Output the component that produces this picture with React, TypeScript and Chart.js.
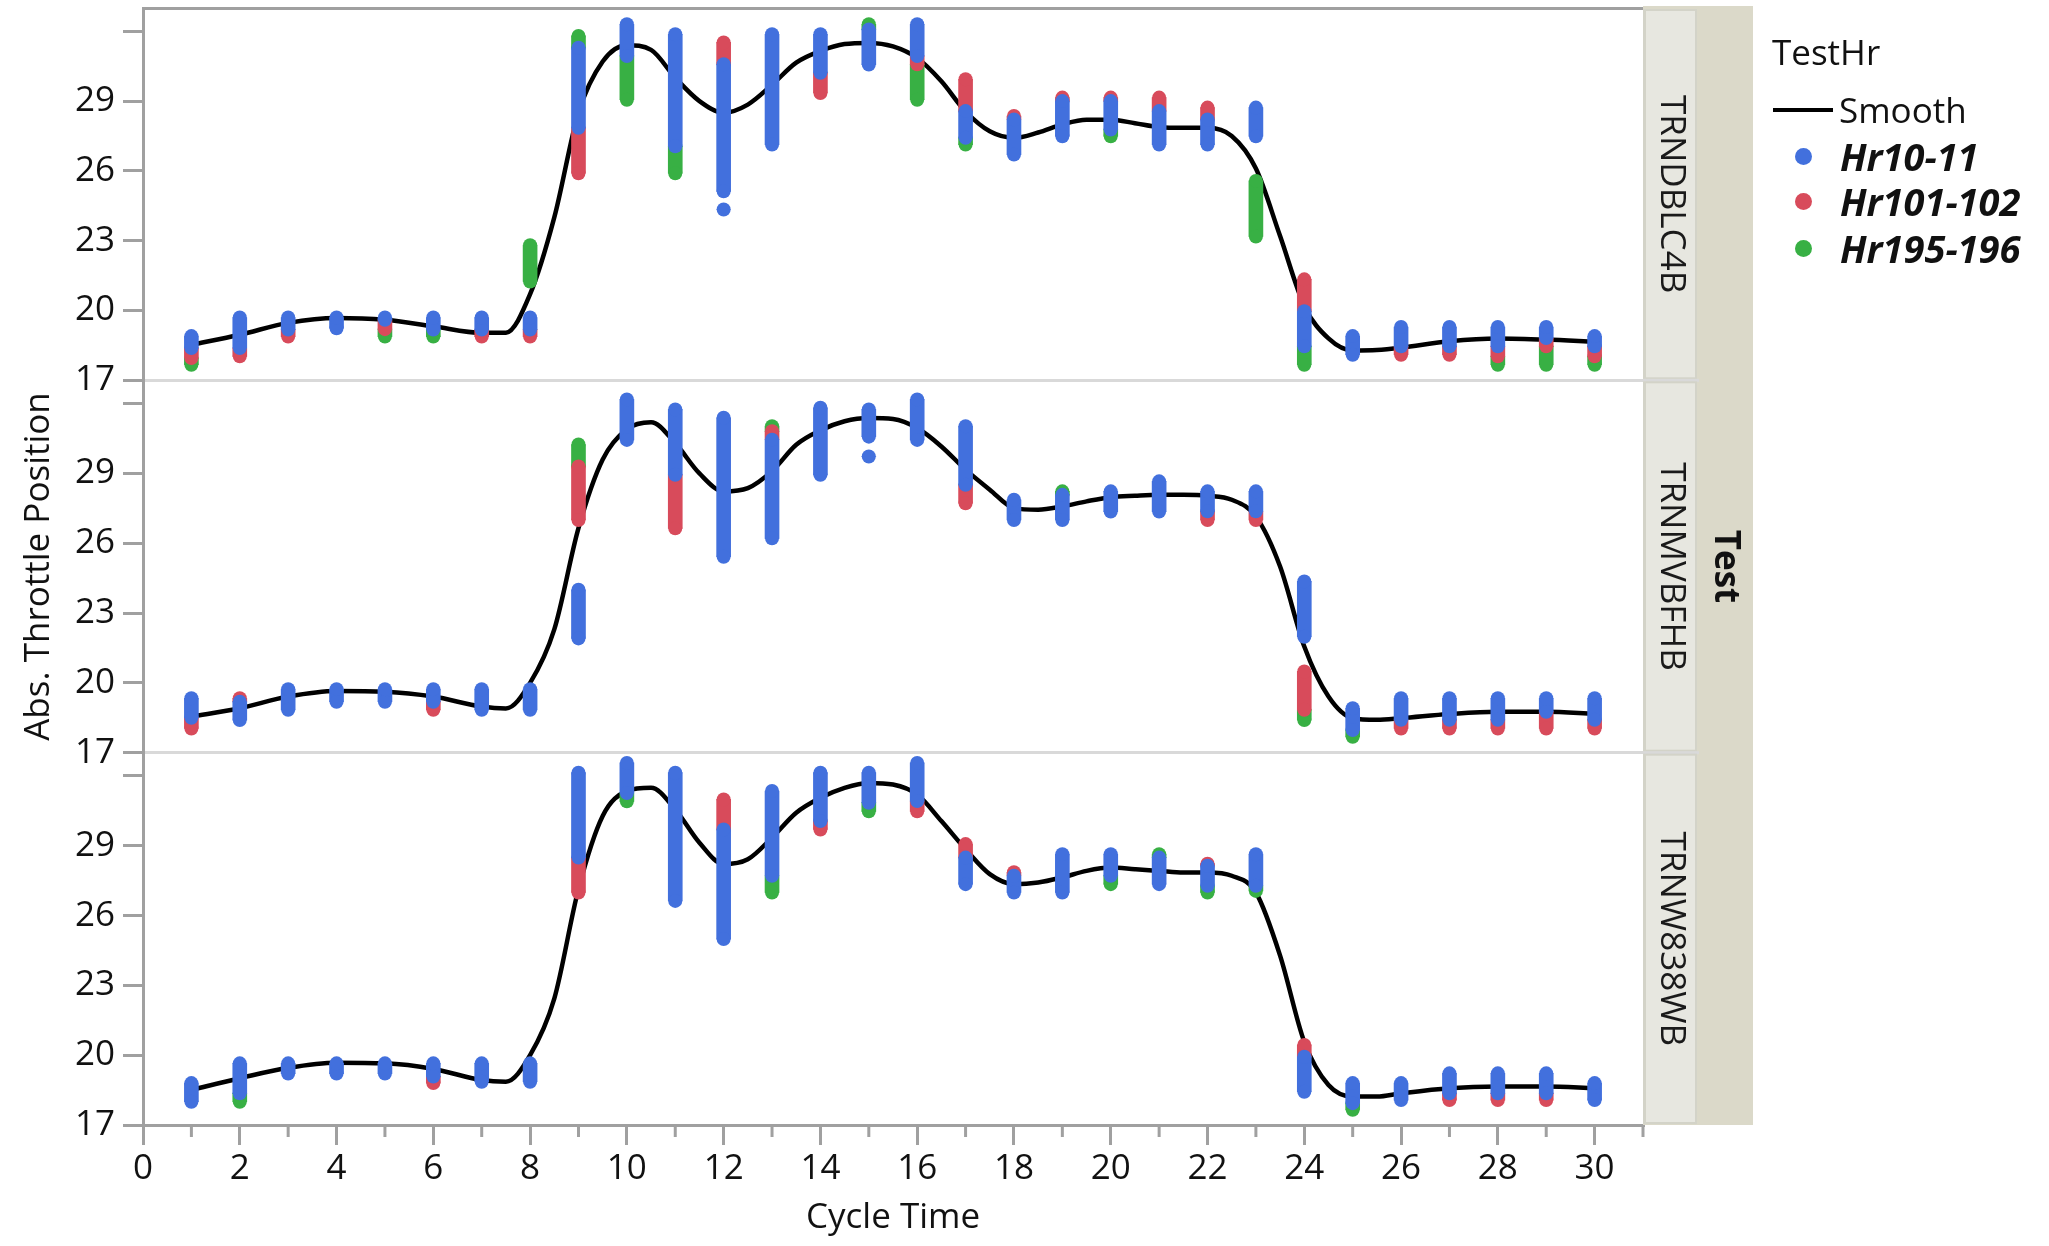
import React, { useEffect, useRef } from 'react';
import { Chart, registerables } from 'chart.js';

Chart.register(...registerables);

type R = [number, number, number]; // [cycle time, low value, high value]

const X_TITLE = 'Cycle Time';
const Y_TITLE = 'Abs. Throttle Position';
const LEGEND_TITLE = 'TestHr';
const SMOOTH_LABEL = 'Smooth';
const FACET_TITLE = 'Test';
const PANELS = ['TRNDBLC4B', 'TRNMVBFHB', 'TRNW838WB'];
const SERIES = ['Hr10-11', 'Hr101-102', 'Hr195-196'];
const COLORS = ['#4270DD', '#D84B5B', '#38B044'];
const Y_TICKS = [17, 20, 23, 26, 29, 32];
const Y_MIN = 17;
const Y_MAX = 33;
const X_MIN = 0;
const X_MAX = 31;

// Panel 1: TRNDBLC4B
const P1_BLUE: R[] = [[1,18.39,18.9],[2,18.39,19.7],[3,19.18,19.7],[4,19.24,19.7],[5,19.6,19.7],[6,19.18,19.7],[7,19.18,19.7],[8,19.18,19.7],[9,27.85,31.29],[10,30.94,32.3],[11,27.06,31.87],[12,25.12,30.58],[12,24.34,24.34],[13,27.13,31.87],[14,30.22,31.87],[15,30.57,32.08],[16,30.94,32.3],[17,27.42,28.57],[18,26.7,28.21],[19,27.49,29.0],[20,27.78,29.0],[21,27.13,28.57],[22,27.13,28.21],[23,27.49,28.72],[24,18.46,19.97],[25,18.1,18.9],[26,18.46,19.29],[27,18.46,19.29],[28,18.46,19.29],[29,18.82,19.29],[30,18.46,18.9]];
const P1_RED: R[] = [[1,17.96,18.39],[2,18.03,18.39],[3,18.88,19.18],[5,19.2,19.6],[7,18.88,19.18],[8,18.88,19.18],[9,25.9,27.85],[12,30.58,31.52],[14,29.35,30.22],[16,30.58,30.94],[17,28.57,29.94],[18,28.21,28.36],[19,29.0,29.15],[20,29.0,29.15],[21,28.57,29.15],[22,28.21,28.72],[24,19.97,21.34],[26,18.1,18.46],[27,18.1,18.46],[28,18.03,18.46],[29,18.46,18.82],[30,18.03,18.46]];
const P1_GREEN: R[] = [[1,17.67,17.96],[5,18.88,19.2],[6,18.88,19.18],[8,21.25,22.81],[9,31.29,31.8],[10,29.06,30.94],[11,25.9,27.06],[15,32.08,32.3],[16,29.06,30.58],[17,27.13,27.42],[20,27.49,27.78],[23,23.18,25.57],[24,17.67,18.46],[28,17.67,18.03],[29,17.67,18.46],[30,17.67,18.03]];

// Panel 2: TRNMVBFHB
const P2_BLUE: R[] = [[1,18.5,19.34],[2,18.4,19.19],[3,18.84,19.73],[4,19.19,19.73],[5,19.19,19.73],[6,19.19,19.73],[7,18.84,19.73],[8,18.84,19.73],[9,21.91,24.0],[10,30.44,32.18],[11,28.94,31.75],[12,25.42,31.39],[13,26.21,30.45],[14,28.94,31.82],[15,30.58,31.75],[15,29.73,29.73],[16,30.44,32.18],[17,28.51,31.03],[18,27.0,27.87],[19,27.0,28.08],[20,27.36,28.23],[21,27.36,28.66],[22,27.37,28.23],[23,27.37,28.23],[24,21.98,24.36],[25,17.97,18.91],[26,18.41,19.34],[27,18.41,19.34],[28,18.41,19.34],[29,18.76,19.34],[30,18.41,19.34]];
const P2_RED: R[] = [[1,18.04,18.5],[2,19.19,19.34],[6,18.84,19.19],[9,27.0,29.3],[11,26.64,28.94],[13,30.45,30.81],[17,27.72,28.51],[22,27.0,27.37],[23,27.0,27.37],[24,18.84,20.49],[26,18.04,18.41],[27,18.04,18.41],[28,18.04,18.41],[29,18.04,18.76],[30,18.04,18.41]];
const P2_GREEN: R[] = [[9,29.3,30.24],[13,30.81,31.03],[19,28.08,28.23],[24,18.4,18.84],[25,17.68,17.97]];

// Panel 3: TRNW838WB
const P3_BLUE: R[] = [[1,18.0,18.8],[2,18.36,19.65],[3,19.21,19.65],[4,19.21,19.65],[5,19.21,19.65],[6,19.08,19.65],[7,18.86,19.65],[8,18.86,19.65],[9,28.49,32.14],[10,31.27,32.56],[11,26.63,32.14],[12,24.99,29.7],[13,27.71,31.35],[14,30.06,32.14],[15,30.85,32.14],[16,30.92,32.56],[17,27.35,28.49],[18,26.99,27.71],[19,26.99,28.64],[20,27.71,28.64],[21,27.35,28.49],[22,27.28,28.14],[23,27.28,28.64],[24,18.43,19.93],[25,17.94,18.8],[26,18.07,18.8],[27,18.36,19.22],[28,18.36,19.22],[29,18.36,19.22],[30,18.07,18.8]];
const P3_RED: R[] = [[6,18.8,19.08],[9,26.99,28.49],[12,29.7,30.99],[14,29.7,30.06],[16,30.48,30.92],[17,28.49,29.07],[18,27.71,27.86],[22,28.14,28.23],[24,19.93,20.44],[27,18.07,18.36],[28,18.07,18.36],[29,18.07,18.36]];
const P3_GREEN: R[] = [[2,18.0,18.36],[10,30.91,31.27],[13,26.99,27.71],[15,30.48,30.85],[20,27.35,27.71],[21,28.49,28.64],[22,26.99,27.28],[23,27.06,27.28],[25,17.65,17.94]];

// Smoother curve
const SMOOTH_X = [1,2,3,4,5,6,7,7.5,8,8.5,9,9.5,10,10.5,11,11.5,12,12.5,13,13.5,14,14.5,15,15.5,16,16.5,17,17.5,18,18.5,19,19.5,20,20.5,21,21.5,22,22.5,23,23.5,24,24.5,25,25.5,26,27,28,29,30];
const P1_SMOOTH = [18.53,18.96,19.47,19.68,19.6,19.32,19.04,19.05,20.7,24.0,28.5,30.7,31.4,31.2,30.0,29.0,28.5,28.85,29.7,30.65,31.15,31.45,31.5,31.35,30.85,29.85,28.55,27.7,27.42,27.65,28.0,28.2,28.2,28.05,27.88,27.85,27.85,27.5,26.1,23.2,20.2,18.8,18.28,18.3,18.4,18.68,18.8,18.75,18.65];
const P2_SMOOTH = [18.55,18.91,19.41,19.65,19.62,19.41,18.98,18.9,20.0,22.3,26.65,29.6,30.9,31.2,30.3,29.0,28.23,28.37,29.1,30.23,30.85,31.24,31.38,31.34,30.95,30.16,29.16,28.3,27.51,27.44,27.58,27.8,27.98,28.04,28.08,28.08,28.04,27.87,27.15,25.0,21.56,19.41,18.48,18.41,18.48,18.66,18.76,18.76,18.66];
const P3_SMOOTH = [18.51,19.01,19.46,19.68,19.65,19.41,18.93,18.86,20.0,22.43,27.14,30.28,31.35,31.49,30.56,29.13,28.21,28.42,29.35,30.42,31.06,31.49,31.7,31.63,31.2,30.06,28.85,27.78,27.35,27.42,27.64,27.92,28.06,27.99,27.92,27.85,27.85,27.71,26.99,24.28,20.57,18.72,18.22,18.22,18.36,18.58,18.65,18.65,18.58];

const PANEL_SERIES = [
  [P1_BLUE, P1_RED, P1_GREEN],
  [P2_BLUE, P2_RED, P2_GREEN],
  [P3_BLUE, P3_RED, P3_GREEN],
];
const PANEL_SMOOTH = [P1_SMOOTH, P2_SMOOTH, P3_SMOOTH];
const Y_IDS = ['y1', 'y2', 'y3'];

const FONT = '"Open Sans", "DejaVu Sans", sans-serif';
const AXIS_GRAY = '#a0a0a0';
const SEP_GRAY = '#d9d9d9';
const TEXT = '#111111';
const MARK_D = 14;

const stripPlugin = {
  id: 'strips',
  afterDraw(chart: any) {
    const ctx = chart.ctx;
    const area = chart.chartArea;
    const x0 = area.right;
    const innerW = 54;
    const outerW = 56;
    ctx.save();
    ctx.fillStyle = '#dbd9c9';
    ctx.fillRect(x0, area.top - 2, innerW + outerW, area.bottom - area.top + 2);
    Y_IDS.forEach((id, i) => {
      const s = chart.scales[id];
      ctx.fillStyle = '#d3d3c8';
      ctx.fillRect(x0, s.top + 1, innerW, s.bottom - s.top - 2);
      ctx.fillStyle = '#e7e7e0';
      ctx.fillRect(x0 + 3, s.top + 3, innerW - 5, s.bottom - s.top - 6);
      ctx.save();
      ctx.translate(x0 + innerW / 2 + 1, (s.top + s.bottom) / 2);
      ctx.rotate(Math.PI / 2);
      ctx.fillStyle = '#1a1a1a';
      ctx.font = `35px ${FONT}`;
      ctx.textAlign = 'center';
      ctx.textBaseline = 'middle';
      ctx.fillText(PANELS[i], 0, 0);
      ctx.restore();
      if (i < Y_IDS.length - 1) {
        ctx.fillStyle = SEP_GRAY;
        ctx.fillRect(x0, s.bottom - 1.5, innerW + 2, 3);
      }
    });
    ctx.save();
    ctx.translate(x0 + innerW + outerW / 2, (area.top + area.bottom) / 2);
    ctx.rotate(Math.PI / 2);
    ctx.fillStyle = '#111';
    ctx.font = `bold 35px ${FONT}`;
    ctx.textAlign = 'center';
    ctx.textBaseline = 'middle';
    ctx.fillText(FACET_TITLE, 0, 0);
    ctx.restore();

    // minor ticks on the x axis
    const xs = chart.scales.x;
    ctx.strokeStyle = AXIS_GRAY;
    ctx.lineWidth = 3;
    for (let v = X_MIN + 1; v <= X_MAX; v += 2) {
      const px = xs.getPixelForValue(v);
      ctx.beginPath();
      ctx.moveTo(px, xs.top);
      ctx.lineTo(px, xs.top + 12);
      ctx.stroke();
    }
    ctx.restore();
  },
};

function yScale(p: number) {
  return {
    type: 'linear',
    position: 'left',
    stack: 'panels',
    stackWeight: 1,
    min: Y_MIN,
    max: Y_MAX,
    offset: false,
    afterBuildTicks: (s: any) => {
      s.ticks = Y_TICKS.map((v) => ({ value: v }));
    },
    afterFit: (s: any) => {
      s.width = 143;
      s.paddingTop = 0;
      s.paddingBottom = 0;
    },
    ticks: {
      autoSkip: false,
      padding: 8,
      color: TEXT,
      font: { size: 35, family: FONT },
      callback: (v: any) => (v === 32 ? '' : String(v)),
    },
    grid: {
      drawOnChartArea: true,
      drawTicks: true,
      tickLength: 20,
      lineWidth: 3,
      tickWidth: 3,
      tickColor: AXIS_GRAY,
      color: (ctx: any) =>
        p < 2 && ctx.tick && ctx.tick.value === Y_MIN ? SEP_GRAY : 'rgba(0,0,0,0)',
    },
    border: { display: true, color: AXIS_GRAY, width: 3 },
    title: {
      display: p === 1,
      text: Y_TITLE,
      color: TEXT,
      font: { size: 35, family: FONT },
      padding: { top: 18, bottom: 0 },
    },
  };
}

export default function App() {
  const canvasRef = useRef<HTMLCanvasElement | null>(null);

  useEffect(() => {
    if (!canvasRef.current) return;
    const datasets: any[] = [];
    PANEL_SERIES.forEach((series, p) => {
      series.forEach((ranges, s) => {
        datasets.push({
          type: 'scatter',
          label: `${SERIES[s]} ${PANELS[p]}`,
          xAxisID: 'x',
          yAxisID: Y_IDS[p],
          data: ranges.flatMap(([x, lo, hi]) =>
            lo === hi ? [{ x, y: lo }] : [{ x, y: lo }, { x, y: hi }]
          ),
          showLine: false,
          pointRadius: MARK_D / 2,
          pointHoverRadius: MARK_D / 2,
          pointBorderWidth: 0,
          backgroundColor: COLORS[s],
          borderColor: COLORS[s],
        });
        datasets.push({
          type: 'bar',
          label: `${SERIES[s]} ${PANELS[p]} range`,
          xAxisID: 'x',
          yAxisID: Y_IDS[p],
          data: ranges.map(([x, lo, hi]) => ({ x, y: [lo, hi] })),
          backgroundColor: COLORS[s],
          borderWidth: 0,
          borderSkipped: false,
          barThickness: MARK_D,
          grouped: false,
        });
      });
    });
    PANEL_SMOOTH.forEach((vals, p) => {
      datasets.push({
        type: 'line',
        label: `${SMOOTH_LABEL} ${PANELS[p]}`,
        xAxisID: 'x',
        yAxisID: Y_IDS[p],
        data: SMOOTH_X.map((x, i) => ({ x, y: vals[i] })),
        borderColor: '#000000',
        borderWidth: 4.5,
        pointRadius: 0,
        fill: false,
        cubicInterpolationMode: 'monotone',
      });
    });

    const chart = new Chart(canvasRef.current, {
      type: 'bar',
      data: { datasets },
      options: {
        responsive: false,
        animation: false,
        devicePixelRatio: 1,
        events: [],
        layout: { padding: { left: 0, top: 8, right: 406, bottom: 0 } },
        plugins: { legend: { display: false }, tooltip: { enabled: false } },
        scales: {
          x: {
            type: 'linear',
            position: 'bottom',
            min: X_MIN,
            max: X_MAX,
            offset: false,
            afterFit: (s: any) => {
              s.height = 121;
              s.paddingLeft = 0;
              s.paddingRight = 0;
            },
            ticks: {
              stepSize: 1,
              autoSkip: false,
              maxRotation: 0,
              padding: 3,
              color: TEXT,
              font: { size: 35, family: FONT },
              callback: (v: any) => (v % 2 === 0 && v <= 30 ? String(v) : ''),
            },
            grid: {
              drawOnChartArea: false,
              drawTicks: true,
              offset: false,
              tickLength: 20,
              tickWidth: 3,
              lineWidth: 3,
              tickColor: (ctx: any) =>
                ctx.tick && ctx.tick.value % 2 === 0 && ctx.tick.value <= 30
                  ? AXIS_GRAY
                  : 'rgba(0,0,0,0)',
            },
            border: { color: AXIS_GRAY, width: 3 },
            title: {
              display: true,
              text: X_TITLE,
              color: TEXT,
              font: { size: 35, family: FONT },
              padding: { top: 0, bottom: 7 },
            },
          },
          xTop: {
            type: 'linear',
            position: 'top',
            min: X_MIN,
            max: X_MAX,
            afterFit: (s: any) => {
              s.height = 0;
              s.paddingLeft = 0;
              s.paddingRight = 0;
            },
            ticks: { display: false },
            grid: { drawOnChartArea: false, drawTicks: false },
            border: { color: AXIS_GRAY, width: 3 },
          },
          y3: yScale(2),
          y2: yScale(1),
          y1: yScale(0),
        } as any,
      } as any,
      plugins: [stripPlugin],
    } as any);
    return () => chart.destroy();
  }, []);

  const legendY = [156, 201, 248];
  return (
    <div
      style={{
        position: 'absolute',
        left: 0,
        top: 0,
        width: 2049,
        height: 1246,
        background: '#ffffff',
        overflow: 'hidden',
      }}
    >
      <canvas
        ref={canvasRef}
        width={2049}
        height={1246}
        style={{ display: 'block', width: 2049, height: 1246 }}
      />
      <div
        style={{
          position: 'absolute',
          left: 1772,
          top: 31,
          font: `35px ${FONT}`,
          lineHeight: '42px',
          color: TEXT,
          whiteSpace: 'nowrap',
        }}
      >
        {LEGEND_TITLE}
      </div>
      <div
        style={{
          position: 'absolute',
          left: 1773,
          top: 108,
          width: 60,
          height: 4,
          background: '#000',
        }}
      />
      <div
        style={{
          position: 'absolute',
          left: 1839,
          top: 89,
          font: `35px ${FONT}`,
          lineHeight: '42px',
          color: TEXT,
          whiteSpace: 'nowrap',
        }}
      >
        {SMOOTH_LABEL}
      </div>
      {SERIES.map((s, i) => (
        <React.Fragment key={s}>
          <div
            style={{
              position: 'absolute',
              left: 1803 - 8.5,
              top: legendY[i] - 8.5,
              width: 17,
              height: 17,
              borderRadius: '50%',
              background: COLORS[i],
            }}
          />
          <div
            style={{
              position: 'absolute',
              left: 1840,
              top: legendY[i] - 22,
              font: `italic bold 38px ${FONT}`,
              lineHeight: '44px',
              color: TEXT,
              whiteSpace: 'nowrap',
            }}
          >
            {s}
          </div>
        </React.Fragment>
      ))}
    </div>
  );
}
